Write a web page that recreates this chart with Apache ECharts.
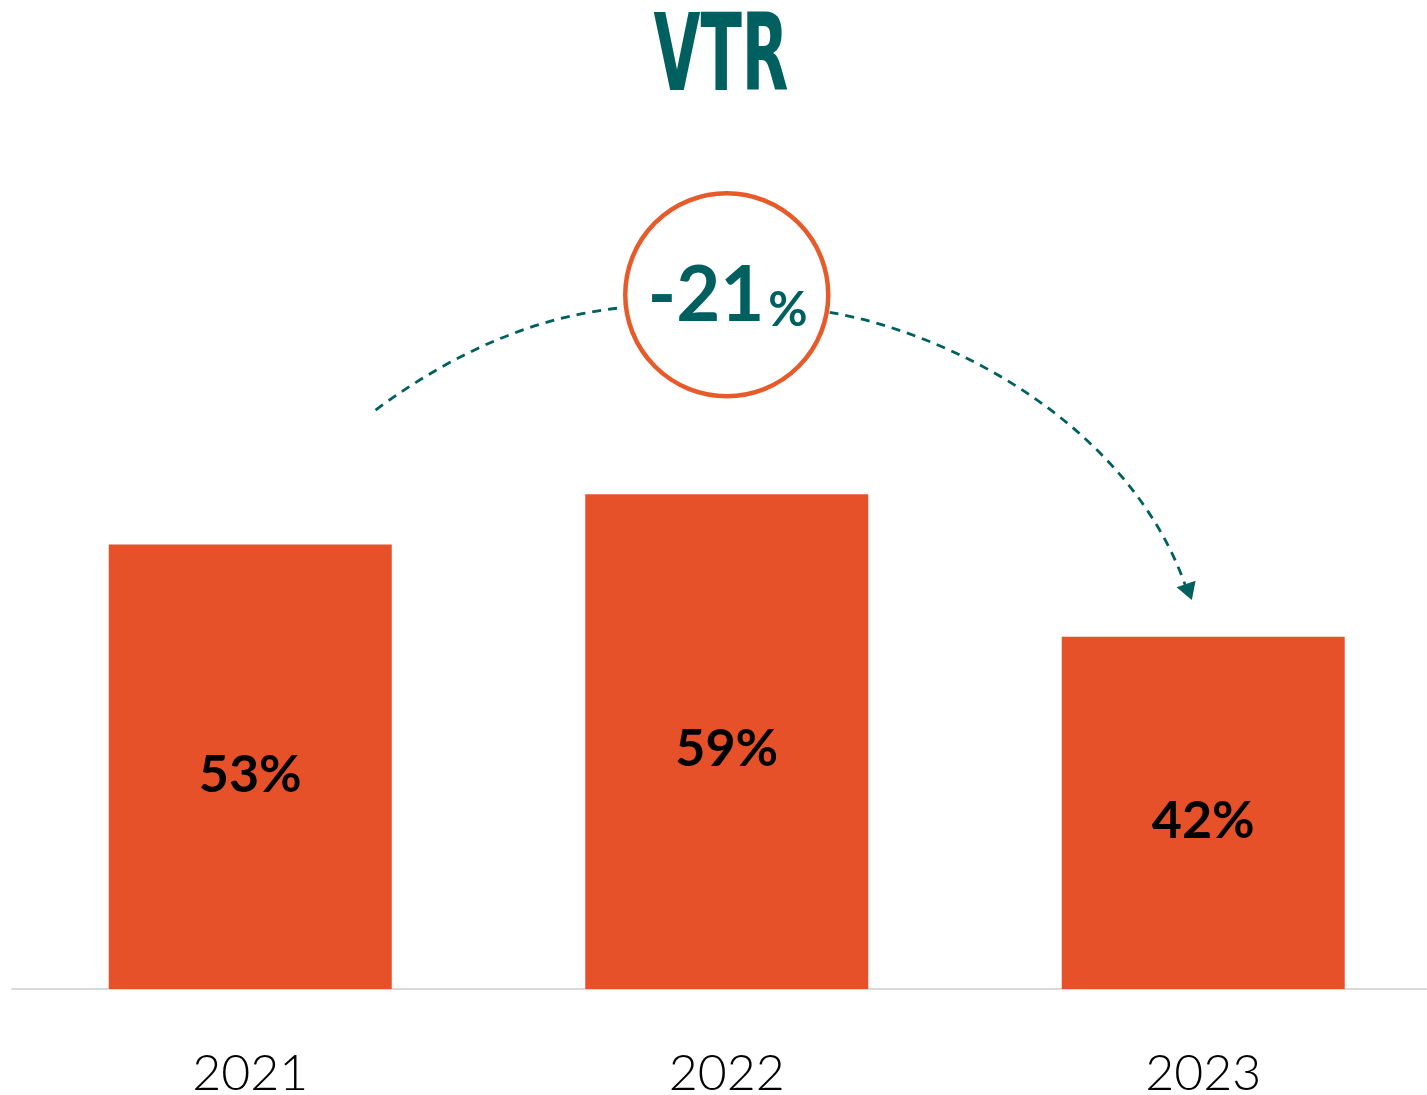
<!DOCTYPE html>
<html>
<head>
<meta charset="utf-8">
<script src="https://cdn.jsdelivr.net/npm/echarts@6/dist/echarts.min.js"></script>
<style>
  html, body { margin: 0; padding: 0; background: #fff; }
  #chart { width: 1427px; height: 1095px; }
</style>
</head>
<body>
<div id="chart"></div>
<script>
// 数据
const years = ['2021', '2022', '2023'];
const vtrValues = [53, 59, 42];
const changeText = '-21';
const titleText = 'VTR';

const teal = '#00605f';
const orange = '#e6512a';

const chart = echarts.init(document.getElementById('chart'));

chart.setOption({
    animation: false,
    grid: {
        left: 12,
        right: -14.5,
        top: 150.5,
        bottom: 106,
        outerBoundsMode: 'none'
    },
    xAxis: {
        type: 'category',
        data: years,
        axisLine: {
            lineStyle: { color: '#d9d9d9', width: 2 }
        },
        axisTick: { show: false },
        axisLabel: {
            margin: 60,
            fontFamily: 'Lato, sans-serif',
            fontWeight: 300,
            fontSize: 50,
            color: '#000'
        }
    },
    yAxis: {
        type: 'value',
        min: 0,
        max: 100,
        show: false,
        splitLine: { show: false }
    },
    series: [
        {
            type: 'bar',
            data: vtrValues,
            barWidth: 283,
            itemStyle: { color: orange },
            label: {
                show: true,
                position: 'inside',
                offset: [0, 8],
                formatter: '{c}%',
                fontFamily: 'Lato, sans-serif',
                fontWeight: 'bold',
                fontSize: 52,
                color: '#000'
            }
        }
    ]
});

// 注释：圆圈和虚线箭头（按类目序号 + 数值换算成像素）
const x0 = chart.convertToPixel({ xAxisIndex: 0 }, 0);
const step = chart.convertToPixel({ xAxisIndex: 0 }, 1) - x0;
const px = (ci, v) => [x0 + ci * step, chart.convertToPixel({ yAxisIndex: 0 }, v)];

const center = px(1, 82.8);
const leftArc = [px(0.263, 69.05), px(0.524, 80.0), px(0.79, 81.3)];
const rightArc = [px(1.216, 80.7), px(1.489, 78.0), px(1.846, 66.7), px(1.962, 48.2)];
const arrowHead = [px(1.944, 47.9), px(1.984, 48.7), px(1.976, 46.4)];

const dashStyle = {
    stroke: teal,
    lineWidth: 2.8,
    lineDash: [9, 7],
    fill: null
};

chart.setOption({
    graphic: [
        {
            type: 'text',
            x: 721,
            y: 62,
            scaleX: 0.63,
            style: {
                text: titleText,
                align: 'center',
                verticalAlign: 'middle',
                fontFamily: "'DejaVu Sans Condensed', 'DejaVu Sans', sans-serif",
                fontWeight: 'bold',
                fontSize: 107,
                fill: teal
            }
        },
        {
            type: 'bezierCurve',
            shape: {
                x1: leftArc[0][0], y1: leftArc[0][1],
                cpx1: leftArc[1][0], cpy1: leftArc[1][1],
                x2: leftArc[2][0], y2: leftArc[2][1]
            },
            style: dashStyle
        },
        {
            type: 'bezierCurve',
            shape: {
                x1: rightArc[0][0], y1: rightArc[0][1],
                cpx1: rightArc[1][0], cpy1: rightArc[1][1],
                cpx2: rightArc[2][0], cpy2: rightArc[2][1],
                x2: rightArc[3][0], y2: rightArc[3][1]
            },
            style: dashStyle
        },
        {
            type: 'polygon',
            shape: { points: arrowHead },
            style: { fill: teal }
        },
        {
            type: 'circle',
            shape: { cx: center[0], cy: center[1], r: step * 0.213 },
            style: { fill: '#fff', stroke: '#e75b2b', lineWidth: 4.5 }
        },
        {
            type: 'text',
            x: center[0] + 1,
            y: center[1] + 2,
            style: {
                text: '{a|' + changeText + '}{b|%}',
                align: 'center',
                verticalAlign: 'middle',
                rich: {
                    a: {
                        fontFamily: 'Lato, sans-serif',
                        fontWeight: 'bold',
                        fontSize: 76,
                        fill: teal,
                        verticalAlign: 'bottom'
                    },
                    b: {
                        fontFamily: 'Lato, sans-serif',
                        fontWeight: 'bold',
                        fontSize: 48,
                        fill: teal,
                        padding: [0, 0, 0, 4],
                        verticalAlign: 'bottom'
                    }
                }
            }
        }
    ]
});
</script>
</body>
</html>
